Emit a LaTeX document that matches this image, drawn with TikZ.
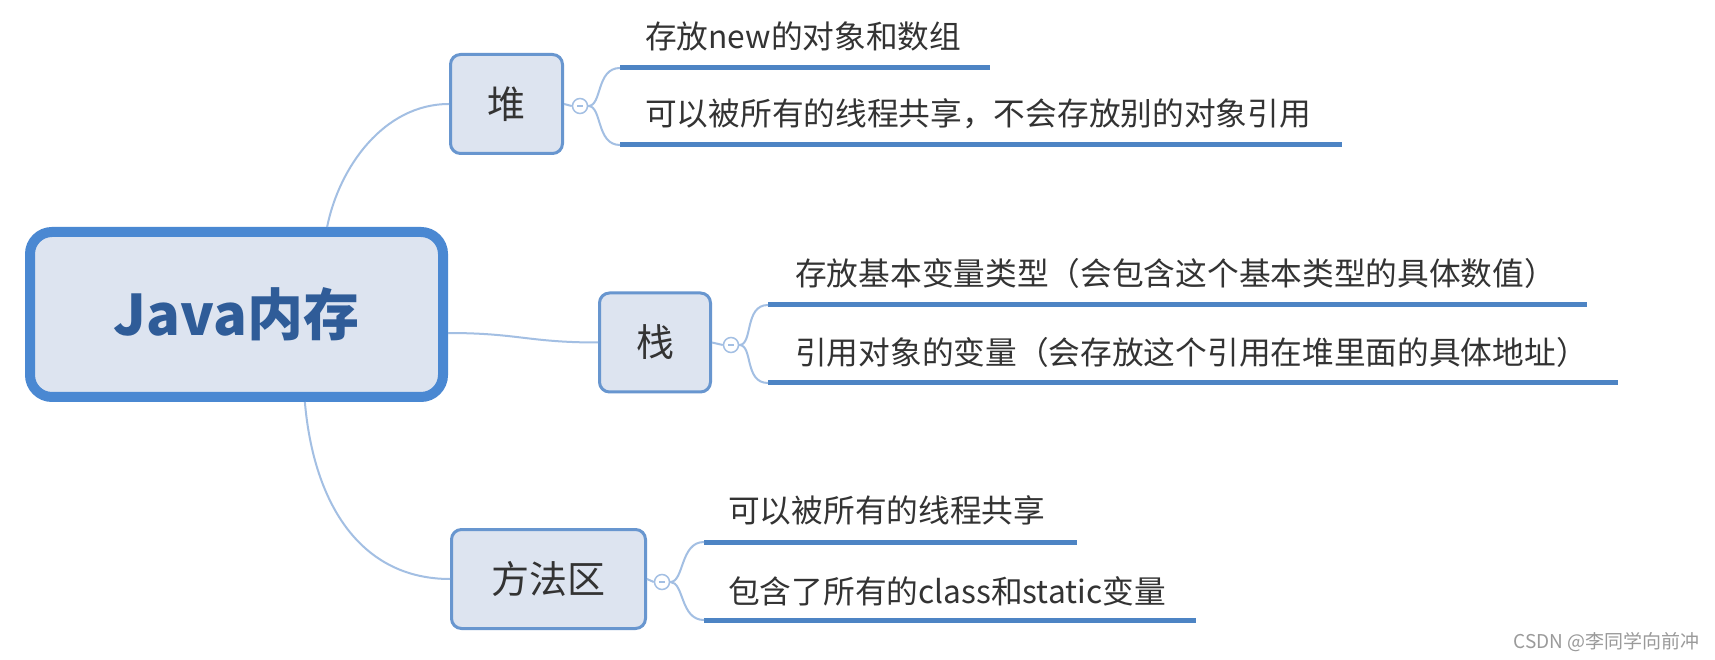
\documentclass[tikz,border=0pt]{standalone}
\usepackage{fontspec}
\setmainfont{Noto Sans CJK SC}
\definecolor{mainborder}{HTML}{4A88D2}
\definecolor{boxfill}{HTML}{DDE4F0}
\definecolor{subborder}{HTML}{6896CF}
\definecolor{conncol}{HTML}{A3BFE3}
\definecolor{ulinecol}{HTML}{4D84C4}
\definecolor{txt}{HTML}{333333}
\definecolor{maintxt}{HTML}{2F5C98}
\definecolor{wmcol}{HTML}{9A9A9A}
\tikzset{
  mainbox/.style={draw=mainborder, line width=10pt, fill=boxfill, rounded corners=22pt,
    minimum width=413pt, minimum height=165pt, inner sep=0pt,
    font=\fontsize{56}{56}\selectfont\bfseries, text=maintxt},
  subbox/.style={draw=subborder, line width=3pt, fill=boxfill, rounded corners=10pt,
    minimum height=99pt, inner sep=0pt, font=\fontsize{38}{38}\selectfont, text=txt},
  leaftext/.style={anchor=west, inner sep=0pt, font=\fontsize{31.7}{32}\selectfont, text=txt},
  uline/.style={draw=ulinecol, line width=5pt},
  conn/.style={draw=conncol, line width=2pt},
  toggle/.style={circle, draw=conncol, line width=1.5pt, fill=white, minimum size=15pt, inner sep=0pt,
    path picture={\draw[conncol, line width=1.2pt] ([xshift=-3pt]path picture bounding box.center) -- ([xshift=3pt]path picture bounding box.center);}},
}
\begin{document}
\begin{tikzpicture}[x=1pt,y=1pt]
\useasboundingbox (0,0) rectangle (1715,659);
\fill[white] (0,0) rectangle (1715,659);

% boxes
\node[mainbox] (main) at (236.5,344.5) {Java内存};
\node[subbox, minimum width=112pt] (heap) at (506.5,555) {堆};
\node[subbox, minimum width=111pt] (stack) at (655,316.5) {栈};
\node[subbox, minimum width=194pt] (method) at (548.5,80) {方法区};

% toggles
\node[toggle] (th) at (580,553) {};
\node[toggle] (ts) at (731,314) {};
\node[toggle] (tm) at (662,77) {};

% underline endpoints
\coordinate (h1s) at (620,591); \coordinate (h1e) at (990,591);
\coordinate (h2s) at (620,514); \coordinate (h2e) at (1342,514);
\coordinate (s1s) at (768,354); \coordinate (s1e) at (1587,354);
\coordinate (s2s) at (768,276); \coordinate (s2e) at (1618,276);
\coordinate (m1s) at (704,117); \coordinate (m1e) at (1077,117);
\coordinate (m2s) at (704,39);  \coordinate (m2e) at (1196,39);

% leaf texts
\node[leaftext] (h1) at (645,623) {存放new的对象和数组};
\node[leaftext] (h2) at (645,545) {可以被所有的线程共享，不会存放别的对象引用};
\node[leaftext] (s1) at (795,386) {存放基本变量类型（会包含这个基本类型的具体数值）};
\node[leaftext] (s2) at (795,307) {引用对象的变量（会存放这个引用在堆里面的具体地址）};
\node[leaftext] (m1) at (728,149) {可以被所有的线程共享};
\node[leaftext] (m2) at (728,68) {包含了所有的class和static变量};

% underlines
\draw[uline] (h1s) -- (h1e);
\draw[uline] (h2s) -- (h2e);
\draw[uline] (s1s) -- (s1e);
\draw[uline] (s2s) -- (s2e);
\draw[uline] (m1s) -- (m1e);
\draw[uline] (m2s) -- (m2e);

% main connectors
\draw[conn] (main.44) .. controls +(12,60) and +(-65,0) .. (heap.west);
\draw[conn] (main.-5) .. controls +(70,0) and +(-70,0) .. (stack.west);
\draw[conn] (main.-52) .. controls +(9,-104) and +(-88,0) .. (method.west);

% box to toggle
\draw[conn] (heap.east) -- (th.west);
\draw[conn] (stack.east) -- (ts.west);
\draw[conn] (method.east) -- (tm.west);

% brackets
\draw[conn] (th.east) .. controls +(14,0) and +(-24,0) .. (h1s);
\draw[conn] (th.east) .. controls +(14,0) and +(-24,0) .. (h2s);
\draw[conn] (ts.east) .. controls +(14,0) and +(-24,0) .. (s1s);
\draw[conn] (ts.east) .. controls +(14,0) and +(-24,0) .. (s2s);
\draw[conn] (tm.east) .. controls +(14,0) and +(-24,0) .. (m1s);
\draw[conn] (tm.east) .. controls +(14,0) and +(-24,0) .. (m2s);

% watermark
\node[font=\fontsize{19}{19}\selectfont, text=wmcol, anchor=east, inner sep=0pt] (wm) at (1700,17) {CSDN @李同学向前冲};
\end{tikzpicture}
\end{document}
